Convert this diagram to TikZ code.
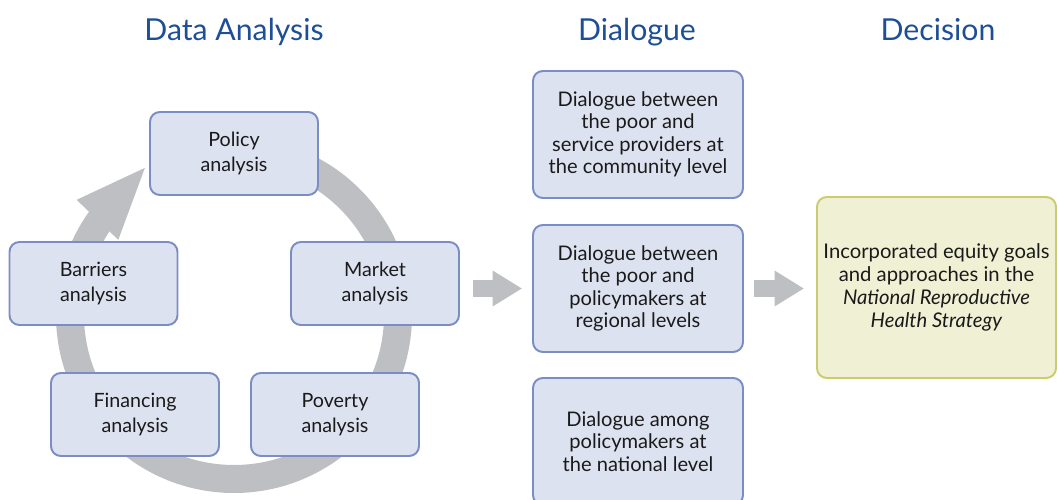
\documentclass[tikz,border=0pt]{standalone}
\usepackage{fontspec}
\setmainfont{Lato}
\usetikzlibrary{arrows.meta,calc}
\definecolor{boxfill}{RGB}{221,226,240}
\definecolor{boxline}{RGB}{122,141,196}
\definecolor{ringgray}{RGB}{190,191,194}
\definecolor{decfill}{RGB}{240,241,212}
\definecolor{decline}{RGB}{201,205,112}
\definecolor{headblue}{RGB}{30,78,150}
\definecolor{textdark}{RGB}{26,26,26}
\tikzset{
  stagebox/.style={draw=boxline, fill=boxfill, line width=1.4pt, rounded corners=7pt,
    align=center, inner sep=0pt, text=textdark, font=\fontsize{14}{17.5}\selectfont},
  analysisbox/.style={stagebox, minimum width=168*0.025cm, minimum height=83*0.025cm},
  dialoguebox/.style={stagebox, minimum width=210*0.025cm, minimum height=127*0.025cm,
    font=\fontsize{14.3}{15.9}\selectfont},
  decisionbox/.style={stagebox, draw=decline, fill=decfill, minimum width=239*0.025cm,
    minimum height=181*0.025cm, font=\fontsize{14.4}{16.2}\selectfont},
  heading/.style={anchor=base, text=headblue, font=\fontsize{21.5}{26}\selectfont},
  bigarrow/.style={draw=ringgray, line width=12pt, -{Triangle[length=21pt,width=24pt]}}
}
\begin{document}
\begin{tikzpicture}[x=0.025cm, y=0.025cm]
  \useasboundingbox (0,0) rectangle (1057,499);
  % cycle ring behind the analysis boxes
  \coordinate (rc) at (234,184);
  \draw[ringgray, line width=0.7cm] (rc) ++(90:164) arc[start angle=90, end angle=-216, radius=164];
  \fill[ringgray] ($(rc)+(147:138)$) -- ($(rc)+(121.2:172)$) -- ($(rc)+(143.8:195)$) -- cycle;

  % headings
  \node[heading] (hdata) at (234,458) {Data Analysis};
  \node[heading] (hdlg) at (637,458) {Dialogue};
  \node[heading] (hdec) at (938,458) {Decision};

  % data analysis
  \node[analysisbox] (policy) at (234,345.5) {Policy\\analysis};
  \node[analysisbox] (market) at (375,215.5) {Market\\analysis};
  \node[analysisbox] (poverty) at (335,84.5) {Poverty\\analysis};
  \node[analysisbox] (financing) at (135,84.5) {Financing\\analysis};
  \node[analysisbox] (barriers) at (93.5,215.5) {Barriers\\analysis};

  % dialogue
  \node[dialoguebox] (dlg1) at (638,364.5) {Dialogue between\\the poor and\\service providers at\\the community level};
  \node[dialoguebox] (dlg2) at (638,210.5) {Dialogue between\\the poor and\\policymakers at\\regional levels};
  \node[dialoguebox] (dlg3) at (638,57.5) {Dialogue among\\policymakers at\\the national level};

  % decision
  \node[decisionbox] (dec) at (936.5,211.5) {Incorporated equity goals\\and approaches in the\\\textit{National Reproductive}\\\textit{Health Strategy}};

  % flow arrows
  \draw[bigarrow, shorten <=9.2pt, shorten >=7pt] (market.east |- dlg2.west) -- (dlg2.west);
  \draw[bigarrow, shorten <=7pt, shorten >=8.5pt] (dlg2.east) -- (dec.west |- dlg2.east);
\end{tikzpicture}
\end{document}
